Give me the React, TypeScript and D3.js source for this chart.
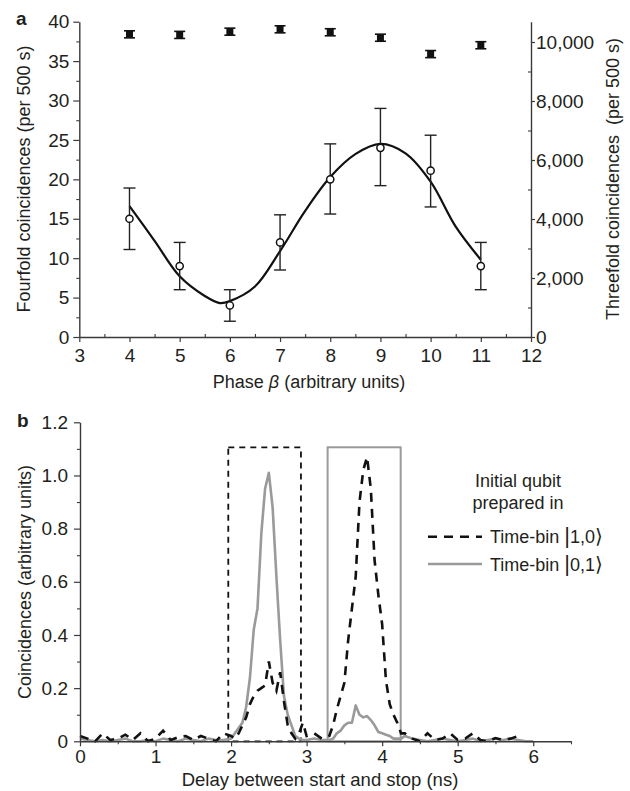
import React, { useEffect, useRef } from "react";
import * as d3 from "d3";

// ---- panel a: phase scan ----
const phases = [4, 5, 6, 7, 8, 9, 10, 11];
const fourfold = [15, 9, 4, 12, 20, 24, 21.1, 9];
const fourfoldLow = [11.1, 6, 2, 8.5, 15.6, 19.2, 16.5, 6];
const fourfoldHigh = [18.9, 12, 6, 15.5, 24.5, 29, 25.6, 12];
const threefold = [10260, 10240, 10350, 10430, 10330, 10145, 9590, 9890];
const threefoldErr = [120, 120, 120, 120, 120, 120, 120, 120];

// fit curve through the fourfold points
const fitPhase = [4, 4.5, 5, 5.5, 5.8, 6, 6.5, 7, 7.5, 8, 8.5, 9, 9.5, 10, 10.5, 11];
const fitValue = [16.6, 12.2, 7.7, 5.2, 4.3, 4.55, 6.4, 10.9, 16.0, 20.3, 23.2, 24.5, 23.3, 19.7, 14.0, 9.8];

const phaseTicks = [3, 4, 5, 6, 7, 8, 9, 10, 11, 12];
const phaseMinor = [3.5, 4.5, 5.5, 6.5, 7.5, 8.5, 9.5, 10.5, 11.5];
const fourTicks = [0, 5, 10, 15, 20, 25, 30, 35, 40];
const fourMinor = [2.5, 7.5, 12.5, 17.5, 22.5, 27.5, 32.5, 37.5];
const threeTicks = [0, 2000, 4000, 6000, 8000, 10000];
const threeMinor = [1000, 3000, 5000, 7000, 9000];

// ---- panel b: delay histogram ----
const delays = [
  0.0, 0.1, 0.2, 0.3, 0.4, 0.5, 0.6, 0.7, 0.8, 0.9, 1.0, 1.1, 1.2, 1.3, 1.4, 1.5, 1.6, 1.7, 1.8, 1.9,
  2.0, 2.05, 2.1, 2.15, 2.2, 2.25, 2.3, 2.35, 2.4, 2.45, 2.5, 2.55, 2.6, 2.65, 2.7, 2.75, 2.8, 2.85, 2.9, 2.95,
  3.0, 3.1, 3.2,
  3.3, 3.35, 3.4, 3.45, 3.5, 3.55, 3.6, 3.65, 3.7, 3.75, 3.8, 3.85, 3.9, 3.95, 4.0, 4.05, 4.1, 4.15, 4.2, 4.25,
  4.3, 4.4, 4.5, 4.6, 4.7, 4.8, 4.9, 5.0, 5.1, 5.2, 5.3, 5.4, 5.5, 5.6, 5.7, 5.8, 5.9, 6.0,
];
// time-bin |1,0> (black dashed)
const bin10 = [
  0.02, 0.01, 0.0, 0.03, 0.005, 0.01, 0.025, 0.005, 0.03, 0.0, 0.01, 0.04, 0.005, 0.015, 0.02, 0.005, 0.02, 0.01, 0.0, 0.03,
  0.02, 0.01, 0.03, 0.06, 0.09, 0.14, 0.17, 0.19, 0.2, 0.21, 0.3, 0.22, 0.19, 0.26, 0.15, 0.06, 0.03, 0.01, 0.03, 0.07,
  0.02, 0.03, 0.01,
  0.02, 0.06, 0.12, 0.17, 0.22, 0.38, 0.5, 0.62, 0.9, 1.02, 1.07, 0.95, 0.68, 0.55, 0.44, 0.23, 0.14, 0.1, 0.07, 0.03,
  0.03, 0.01, 0.0, 0.03, 0.005, 0.01, 0.03, 0.005, 0.01, 0.03, 0.005, 0.0, 0.012, 0.005, 0.01, 0.02, null, null,
];
// time-bin |0,1> (grey solid)
const bin01 = [
  0.01, 0.005, 0.0, 0.005, 0.0, 0.005, 0.01, 0.0, 0.0, 0.005, 0.0, 0.01, 0.005, 0.0, 0.01, 0.005, 0.0, 0.01, 0.005, 0.005,
  0.01, 0.03, 0.05, 0.07, 0.13, 0.24, 0.42, 0.5, 0.78, 0.95, 1.01, 0.88, 0.62, 0.38, 0.17, 0.1, 0.06, 0.02, 0.01, 0.005,
  0.005, 0.01, 0.005,
  0.005, 0.01, 0.03, 0.04, 0.06, 0.07, 0.07, 0.135, 0.1, 0.09, 0.095, 0.08, 0.06, 0.035, 0.03, 0.025, 0.02, 0.01, 0.01, 0.01,
  0.02, 0.01, 0.005, 0.0, 0.005, 0.01, 0.005, 0.0, 0.005, 0.01, 0.0, 0.005, 0.01, 0.005, 0.01, 0.005, 0.0, 0.0,
];
// detection windows [start, end, height]
const window10 = [1.963, 2.925, 1.106];
const window01 = [3.278, 4.245, 1.106];

const delayTicks = [0, 1, 2, 3, 4, 5, 6];
const delayMinor = [0.5, 1.5, 2.5, 3.5, 4.5, 5.5, 6.5];
const coincTicks = [0, 0.2, 0.4, 0.6, 0.8, 1.0, 1.2];
const coincMinor = [0.1, 0.3, 0.5, 0.7, 0.9, 1.1];

const FONT = "'Liberation Sans', Arial, Helvetica, sans-serif";
const INK = "#231f20";
const AXIS = "#3a3a3a";
const GREY = "#9a9a9a";

const styleAxis = (g) => {
  g.select(".domain").attr("stroke", AXIS).attr("stroke-width", 1.4);
  g.selectAll(".tick line").attr("stroke", AXIS).attr("stroke-width", 1.2);
  g.selectAll(".tick text")
    .attr("fill", INK)
    .style("font-size", "19px")
    .style("font-family", FONT);
};

const minorAxis = (g) => {
  g.select(".domain").remove();
  g.selectAll(".tick line").attr("stroke", AXIS).attr("stroke-width", 1.1);
};

const drawPhase = (svg) => {
  const x = d3.scaleLinear().domain([3, 12]).range([79.3, 531]);
  const yL = d3.scaleLinear().domain([0, 40]).range([337, 21.7]);
  const yR = d3.scaleLinear().domain([0, 10688]).range([337, 21.7]);

  // fit curve
  const fit = d3
    .line()
    .x((d) => x(d[0]))
    .y((d) => yL(d[1]))
    .curve(d3.curveCatmullRom);
  svg
    .append("path")
    .datum(fitPhase.map((p, i) => [p, fitValue[i]]))
    .attr("fill", "none")
    .attr("stroke", "#111")
    .attr("stroke-width", 2.2)
    .attr("d", fit);

  // fourfold error bars + open circles
  const four = svg.append("g");
  phases.forEach((p, i) => {
    const cx = x(p);
    four.append("line").attr("x1", cx).attr("x2", cx)
      .attr("y1", yL(fourfoldLow[i])).attr("y2", yL(fourfoldHigh[i]))
      .attr("stroke", "#222").attr("stroke-width", 1.4);
    [fourfoldLow[i], fourfoldHigh[i]].forEach((v) => {
      four.append("line").attr("x1", cx - 6).attr("x2", cx + 6)
        .attr("y1", yL(v)).attr("y2", yL(v))
        .attr("stroke", "#222").attr("stroke-width", 1.4);
    });
    four.append("circle").attr("cx", cx).attr("cy", yL(fourfold[i])).attr("r", 3.6)
      .attr("fill", "white").attr("stroke", "#111").attr("stroke-width", 1.5);
  });

  // threefold markers (right axis)
  const three = svg.append("g");
  phases.forEach((p, i) => {
    const cx = x(p);
    const top = yR(threefold[i] + threefoldErr[i]);
    const bot = yR(threefold[i] - threefoldErr[i]);
    three.append("rect").attr("x", cx - 3.5).attr("y", top).attr("width", 7).attr("height", bot - top)
      .attr("fill", "#111");
    [top, bot].forEach((yy) => {
      three.append("line").attr("x1", cx - 5.5).attr("x2", cx + 5.5).attr("y1", yy).attr("y2", yy)
        .attr("stroke", "#111").attr("stroke-width", 1.6);
    });
  });

  // axes
  svg.append("g").attr("transform", "translate(0,337)")
    .call(d3.axisBottom(x).tickValues(phaseTicks).tickSize(5).tickSizeOuter(0).tickPadding(6.5)
      .tickFormat(d3.format("d")))
    .call(styleAxis);
  svg.append("g").attr("transform", "translate(0,337)")
    .call(d3.axisTop(x).tickValues(phaseMinor).tickSize(3).tickFormat(() => ""))
    .call(minorAxis);

  svg.append("g").attr("transform", "translate(79.3,0)")
    .call(d3.axisLeft(yL).tickValues(fourTicks).tickSize(6).tickSizeOuter(0).tickPadding(4)
      .tickFormat(d3.format("d")))
    .call(styleAxis);
  svg.append("g").attr("transform", "translate(79.3,0)")
    .call(d3.axisLeft(yL).tickValues(fourMinor).tickSize(3).tickFormat(() => ""))
    .call(minorAxis);

  svg.append("g").attr("transform", "translate(531,0)")
    .call(d3.axisRight(yR).tickValues(threeTicks).tickSize(4).tickSizeOuter(0).tickPadding(1)
      .tickFormat(d3.format(",")))
    .call(styleAxis);
  svg.append("g").attr("transform", "translate(531,0)")
    .call(d3.axisLeft(yR).tickValues(threeMinor).tickSize(3).tickFormat(() => ""))
    .call(minorAxis);

  // labels
  svg.append("text").attr("x", 16).attr("y", 25).text("a")
    .attr("fill", INK).style("font-weight", "bold").style("font-size", "19px");
  svg.append("text").attr("transform", "translate(30,179) rotate(-90)")
    .attr("text-anchor", "middle").attr("fill", INK).style("font-size", "18px")
    .text("Fourfold coincidences (per 500 s)");
  svg.append("text").attr("transform", "translate(619,179) rotate(-90)")
    .attr("text-anchor", "middle").attr("fill", INK).style("font-size", "18px")
    .style("white-space", "pre")
    .text("Threefold coincidences  (per 500 s)");
  const xt = svg.append("text").attr("x", 309).attr("y", 388)
    .attr("text-anchor", "middle").attr("fill", INK).style("font-size", "18px");
  xt.append("tspan").text("Phase ");
  xt.append("tspan").style("font-style", "italic").text("β");
  xt.append("tspan").text(" (arbitrary units)");
};

const drawDelay = (svg) => {
  const x = d3.scaleLinear().domain([0, 6.5]).range([80, 571]);
  const y = d3.scaleLinear().domain([0, 1.2]).range([741.3, 422.3]);

  // detection windows
  svg.append("rect")
    .attr("x", x(window10[0])).attr("y", y(window10[2]))
    .attr("width", x(window10[1]) - x(window10[0])).attr("height", y(0) - y(window10[2]))
    .attr("fill", "none").attr("stroke", "#111").attr("stroke-width", 1.8)
    .attr("stroke-dasharray", "6,5");
  svg.append("rect")
    .attr("x", x(window01[0])).attr("y", y(window01[2]))
    .attr("width", x(window01[1]) - x(window01[0])).attr("height", y(0) - y(window01[2]))
    .attr("fill", "none").attr("stroke", GREY).attr("stroke-width", 2);

  const line = d3
    .line()
    .defined((d) => d[1] != null)
    .x((d) => x(d[0]))
    .y((d) => y(d[1]));

  svg.append("path")
    .datum(delays.map((t, i) => [t, bin01[i]]))
    .attr("fill", "none").attr("stroke", GREY).attr("stroke-width", 2.6)
    .attr("stroke-linejoin", "round")
    .attr("d", line);
  svg.append("path")
    .datum(delays.map((t, i) => [t, bin10[i]]))
    .attr("fill", "none").attr("stroke", "#111").attr("stroke-width", 2.6)
    .attr("stroke-dasharray", "9,7")
    .attr("d", line);

  // axes
  svg.append("g").attr("transform", "translate(0,741.3)")
    .call(d3.axisBottom(x).tickValues(delayTicks).tickSize(5).tickSizeOuter(0).tickPadding(3)
      .tickFormat(d3.format("d")))
    .call(styleAxis);
  svg.append("g").attr("transform", "translate(0,741.3)")
    .call(d3.axisBottom(x).tickValues(delayMinor).tickSize(3).tickFormat(() => ""))
    .call(minorAxis);
  svg.append("g").attr("transform", "translate(80,0)")
    .call(d3.axisLeft(y).tickValues(coincTicks).tickSize(6).tickSizeOuter(0).tickPadding(6)
      .tickFormat((d) => (d === 0 ? "0" : d3.format(".1f")(d))))
    .call(styleAxis);
  svg.append("g").attr("transform", "translate(80,0)")
    .call(d3.axisLeft(y).tickValues(coincMinor).tickSize(3).tickFormat(() => ""))
    .call(minorAxis);

  // labels
  svg.append("text").attr("x", 17).attr("y", 427).text("b")
    .attr("fill", INK).style("font-weight", "bold").style("font-size", "19px");
  svg.append("text").attr("transform", "translate(31,582) rotate(-90)")
    .attr("text-anchor", "middle").attr("fill", INK).style("font-size", "18px")
    .text("Coincidences (arbitrary units)");
  svg.append("text").attr("x", 320).attr("y", 786)
    .attr("text-anchor", "middle").attr("fill", INK).style("font-size", "18.5px")
    .text("Delay between start and stop (ns)");

  // legend
  const lg = svg.append("g").attr("fill", INK).style("font-size", "18px");
  lg.append("text").attr("x", 518).attr("y", 487).attr("text-anchor", "middle").text("Initial qubit");
  lg.append("text").attr("x", 518).attr("y", 509).attr("text-anchor", "middle").text("prepared in");
  lg.append("line").attr("x1", 428).attr("x2", 482).attr("y1", 536.7).attr("y2", 536.7)
    .attr("stroke", "#111").attr("stroke-width", 2.6).attr("stroke-dasharray", "9,7");
  lg.append("line").attr("x1", 428).attr("x2", 482).attr("y1", 564).attr("y2", 564)
    .attr("stroke", GREY).attr("stroke-width", 2.6);
  [["1,0", 543], ["0,1", 571]].forEach(([k, yy]) => {
    const t = lg.append("text").attr("x", 490).attr("y", yy);
    t.append("tspan").text("Time-bin ");
    t.append("tspan").style("font-size", "22px").style("font-weight", "300").text("|");
    t.append("tspan").text(k);
    t.append("tspan").style("font-size", "20px").style("font-family", "'DejaVu Sans'").text("⟩");
  });
};

export default function App() {
  const ref = useRef(null);

  useEffect(() => {
    document.body.style.margin = "0";
    const svg = d3.select(ref.current);
    svg.selectAll("*").remove();
    drawPhase(svg.append("g"));
    drawDelay(svg.append("g"));
  }, []);

  return (
    <svg
      ref={ref}
      width={630}
      height={791}
      style={{ display: "block", fontFamily: FONT, background: "white" }}
    />
  );
}
